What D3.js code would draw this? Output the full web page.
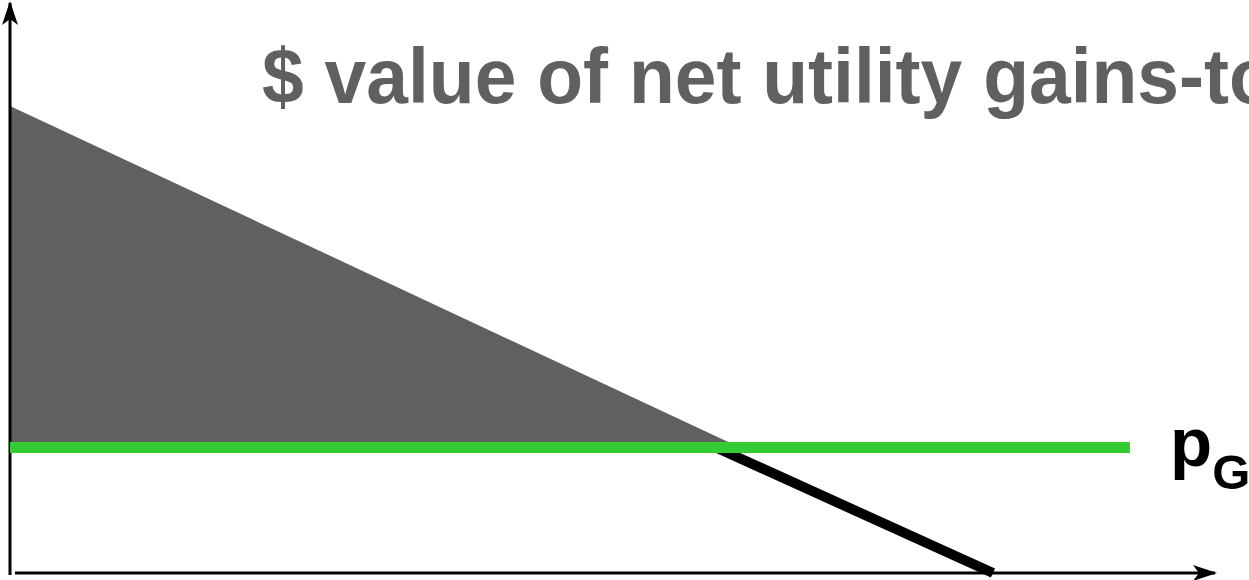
<!DOCTYPE html>
<html>
<head>
<meta charset="utf-8">
<script src="https://cdn.jsdelivr.net/npm/d3@7"></script>
<style>
  body { margin: 0; background: #fff; }
  svg { display: block; }
</style>
</head>
<body>
<svg id="chart" width="1249" height="580"></svg>
<script>
// demand curve: shaded part above the price, black part below it
var surplusQ = [0, 73.0]
var surplusP = [46.7, 12.55]
var belowQ = [70.6, 98.3]
var belowP = [12.55, 0]
var pG = 12.55
var pGEndQ = 112
var titleText = "$ value of net utility gains-to-trade"

var width = 1249, height = 580
var svg = d3.select('#chart')

var x = d3.scaleLinear().domain([0, 120]).range([10, 1210])
var y = d3.scaleLinear().domain([0, 56.5]).range([573, 8])

// arrow heads
var defs = svg.append('defs')
defs.append('marker')
    .attr('id', 'arrow')
    .attr('viewBox', '0 0 24 16')
    .attr('refX', 22).attr('refY', 8)
    .attr('markerWidth', 24).attr('markerHeight', 16)
    .attr('markerUnits', 'userSpaceOnUse')
    .attr('orient', 'auto')
    .append('path')
    .attr('d', 'M0,0 L24,8 L0,16 L6,8 Z')
    .attr('fill', '#000')

// shaded triangle
var tri = [[surplusQ[0], surplusP[0]], [surplusQ[1], surplusP[1]], [0, pG]]
svg.append('path')
    .attr('d', d3.line().x(d => x(d[0])).y(d => y(d[1]))(tri) + 'Z')
    .attr('fill', '#606060')

// demand below price
svg.append('line')
    .attr('x1', x(belowQ[0])).attr('y1', y(belowP[0]))
    .attr('x2', x(belowQ[1])).attr('y2', y(belowP[1]))
    .attr('stroke', '#000')
    .attr('stroke-width', 10)

// axes
svg.append('line')
    .attr('x1', x(0)).attr('y1', 575)
    .attr('x2', x(0)).attr('y2', 3)
    .attr('stroke', '#000').attr('stroke-width', 3)
    .attr('marker-end', 'url(#arrow)')
svg.append('line')
    .attr('x1', 15).attr('y1', y(0))
    .attr('x2', 1215).attr('y2', y(0))
    .attr('stroke', '#000').attr('stroke-width', 3)
    .attr('marker-end', 'url(#arrow)')

// green price line
svg.append('line')
    .attr('x1', x(0)).attr('y1', y(pG))
    .attr('x2', x(pGEndQ)).attr('y2', y(pG))
    .attr('stroke', '#33cc33')
    .attr('stroke-width', 11)

// price label
var lbl = svg.append('text')
    .attr('x', 1170).attr('y', y(pG) + 18)
    .attr('font-family', 'Liberation Sans, Arial, sans-serif')
    .attr('font-weight', 'bold')
    .attr('font-size', 69)
    .attr('fill', '#000')
    .text('p')
lbl.append('tspan')
    .attr('dy', 23)
    .attr('font-size', 49)
    .text('G')

// title
svg.append('text')
    .attr('transform', 'translate(262,103) scale(0.962,1)')
    .attr('font-family', 'Liberation Sans Narrow, Arial Narrow, Liberation Sans, sans-serif')
    .attr('font-weight', 'bold')
    .attr('font-size', 78)
    .attr('fill', '#606060')
    .text(titleText)
</script>
</body>
</html>
